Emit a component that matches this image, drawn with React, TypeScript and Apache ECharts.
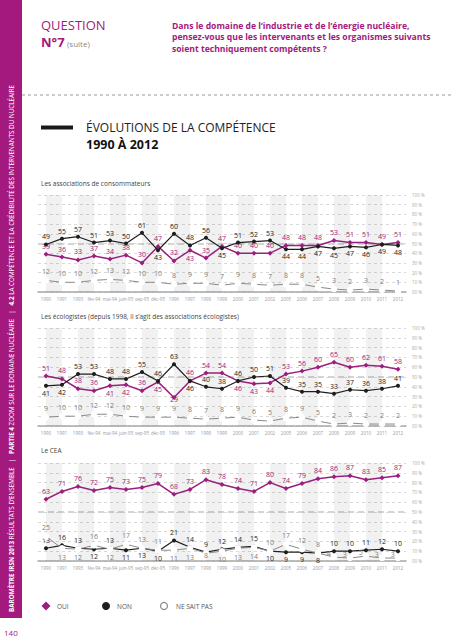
import React, { useEffect, useRef } from "react";
import * as echarts from "echarts";

const categories = ["1990", "1991", "1993", "fév-94", "mai-94", "juin-95", "sep-95", "déc-95", "1996", "1997", "1998", "1999", "2000", "2001", "2002", "2005", "2006", "2007", "2008", "2009", "2010", "2011", "2012"];

const consoOui = [39, 36, 33, 37, 34, 38, 30, 47, 32, 43, 35, 47, 40, 40, 40, 48, 48, 48, 53, 51, 51, 49, 51];
const consoNon = [49, 55, 57, 51, 53, 50, 61, 43, 60, 48, 56, 45, 51, 52, 53, 44, 44, 47, 45, 47, 46, 49, 48];
const consoNsp = [12, 10, 10, 12, 13, 12, 10, 10, 8, 9, 9, 7, 9, 8, 7, 8, 8, 5, 3, 2, 3, 2, 1];

const ecoOui = [51, 48, 38, 36, 41, 42, 36, 45, 29, 46, 54, 54, 46, 43, 44, 53, 56, 60, 65, 60, 62, 61, 58];
const ecoNon = [41, 42, 53, 53, 48, 48, 55, 46, 63, 46, 40, 38, 46, 50, 51, 39, 35, 35, 33, 37, 36, 38, 41];
const ecoNsp = [9, 10, 10, 12, 12, 10, 9, 9, 9, 8, 7, 8, 9, 6, 5, 8, 9, 5, 2, 3, 2, 2, 2];

const ceaOui = [63, 71, 76, 72, 75, 73, 75, 79, 68, 73, 83, 78, 74, 71, 80, 74, 79, 84, 86, 87, 83, 85, 87];
const ceaNon = [13, 16, 13, 12, 13, 11, 13, 10, 21, 14, 9, 12, 14, 15, 10, 9, 9, 8, 10, 10, 11, 12, 10];
const ceaNsp = [25, 13, 12, 16, 12, 17, 13, 11, 11, 13, 8, 10, 13, 14, 10, 17, 12, 8, 4, 3, 5, 3, 3];

const yTicks = ["00 %", "10 %", "20 %", "30 %", "40 %", "50 %", "60 %", "70 %", "80 %", "90 %", "100 %"];

const panelTitles = [
  "Les associations de consommateurs",
  "Les écologistes (depuis 1998, il s’agit des associations écologistes)",
  "Le CEA",
];
const seriesNames = ["OUI", "NON", "NE SAIT PAS"];

// label placement (style only): indices whose label sits below / upper-left of the point
const belowIdx: number[][][] = [
  [[9], [7, 11, 15, 16, 17, 18, 19, 20, 21, 22], []],
  [[4, 5, 7, 8, 12, 13, 14], [0, 1, 9], []],
  [[], [3, 5, 6, 7, 14, 15, 16, 17], [1, 2, 4, 8, 9, 10, 11, 12, 13]],
];
const leftIdx: number[][][] = [
  [[], [], []],
  [[], [], []],
  [[], [], [18, 19, 20, 21, 22]],
];
const tightIdx: number[][][] = [
  [[], [], []],
  [[8], [], []],
  [[], [], [10]],
];

const panels = [
  [consoOui, consoNon, consoNsp],
  [ecoOui, ecoNon, ecoNsp],
  [ceaOui, ceaNon, ceaNsp],
];

const MAG = "#a3197d";
const PURPLE = "#9a1f7e";
const BLACK = "#1e1e1e";
const GREY = "#8a8a8a";
const FONT = "'Open Sans', 'Noto Sans', sans-serif";

const gridTops = [195, 328, 463];
const gridHeights = [97, 98, 98];
const titleY = [183, 316, 450];

function labelFor(p: number, s: number, i: number) {
  if (leftIdx[p][s].includes(i)) return { position: "left", distance: 1, offset: [1, -4] };
  if (belowIdx[p][s].includes(i)) {
    if (tightIdx[p][s].includes(i)) return { position: "bottom", distance: 0, offset: [0, -4] };
    return { position: "bottom" };
  }
  return { position: "top" };
}

function buildOption() {
  const grid: any[] = [];
  const xAxis: any[] = [];
  const yAxis: any[] = [];
  const series: any[] = [];

  const stripes: any[] = [];
  for (let i = 0; i + 1 < categories.length; i += 2) {
    stripes.push([{ xAxis: categories[i] }, { xAxis: categories[i + 1] }]);
  }

  panels.forEach((vals, p) => {
    grid.push({ left: 38, top: gridTops[p], width: 368, height: gridHeights[p] });
    xAxis.push({
      type: "category",
      gridIndex: p,
      data: categories,
      boundaryGap: true,
      axisLine: { lineStyle: { color: "#a8a8a8", width: 1.5 } },
      axisTick: { alignWithLabel: true, length: 3, lineStyle: { color: "#a8a8a8" } },
      axisLabel: { interval: 0, fontSize: 4.5, color: "#9a9a9a", margin: 4, fontFamily: FONT },
      splitLine: { show: false },
    });
  });
  panels.forEach((_, p) => {
    yAxis.push({
      type: "value",
      gridIndex: p,
      position: "right",
      min: 0,
      max: 100,
      interval: 10,
      axisLine: { show: false },
      axisTick: { show: false },
      axisLabel: {
        fontSize: 4.5,
        color: "#aaaaaa",
        margin: 6,
        fontFamily: FONT,
        formatter: (v: number) => yTicks[Math.round(v / 10)],
      },
      splitLine: { lineStyle: { color: "#cfcfcf", type: [3, 3], width: 0.8 } },
    });
  });
  // helper axes drawing only the heavier 50 % line
  panels.forEach((_, p) => {
    yAxis.push({
      type: "value",
      gridIndex: p,
      position: "left",
      min: 0,
      max: 100,
      interval: 50,
      axisLine: { show: false },
      axisTick: { show: false },
      axisLabel: { show: false },
      splitLine: { show: true, showMinLine: false, showMaxLine: false, lineStyle: { color: "#d4d4d4", type: [6, 4], width: 1.8 } },
    });
  });

  panels.forEach((vals, p) => {
    const colors = [PURPLE, BLACK, GREY];
    const symbols = ["diamond", "circle", "emptyCircle"];
    const sizes = [5, 4, 4.5];
    const widths = [1.5, 1.2, 1];
    const labelColors = [PURPLE, BLACK, "#808080"];

    [2, 0, 1].forEach((s) => {
      const serie: any = {
        type: "line",
        name: seriesNames[s],
        xAxisIndex: p,
        yAxisIndex: p,
        color: colors[s],
        data: vals[s].map((v, i) => ({
          value: v,
          label: labelFor(p, s, i),
        })),
        symbol: symbols[s],
        symbolSize: sizes[s],
        lineStyle: { color: colors[s], width: widths[s] },
        itemStyle: { color: s === 2 ? "#ffffff" : colors[s], borderColor: colors[s], borderWidth: s === 2 ? 1 : 0 },
        label: {
          show: true,
          fontSize: 7,
          color: labelColors[s],
          fontFamily: FONT,
          distance: 2,
        },
        z: 3 + s,
      };
      if (s === 2) {
        serie.markArea = {
          silent: true,
          itemStyle: { color: "rgba(0,0,0,0.055)" },
          data: stripes,
        };
      }
      series.push(serie);
    });
  });

  const graphic: any[] = [
    { type: "rect", shape: { x: 0, y: 0, width: 22, height: 618 }, style: { fill: MAG } },
    {
      type: "text",
      x: 11,
      y: 612,
      rotation: Math.PI / 2,
      style: {
        text:
          "{b|BAROMÈTRE IRSN 2013} RÉSULTATS D’ENSEMBLE   |   {b|PARTIE 4} ZOOM SUR LE DOMAINE NUCLÉAIRE   |   {b|4.2} LA COMPÉTENCE ET LA CRÉDIBILITÉ DES INTERVENANTS DU NUCLÉAIRE",
        fill: "#ffffff",
        fontSize: 6.3,
        fontFamily: FONT,
        align: "left",
        verticalAlign: "middle",
        rich: { b: { fontWeight: "bold", fontSize: 6.3, fill: "#ffffff", fontFamily: FONT } },
      },
    },
    { type: "text", x: 4, y: 632, style: { text: "140", fill: MAG, fontSize: 8, fontFamily: FONT, verticalAlign: "middle" } },
    { type: "text", x: 41, y: 25, style: { text: "QUESTION", fill: MAG, fontSize: 13, fontFamily: FONT, verticalAlign: "middle" } },
    { type: "text", x: 41, y: 42, style: { text: "N°7", fill: MAG, fontSize: 13, fontWeight: "bold", fontFamily: FONT, verticalAlign: "middle" } },
    { type: "text", x: 67, y: 43, style: { text: "(suite)", fill: "#8a8a8a", fontSize: 8, fontFamily: FONT, verticalAlign: "middle" } },
    {
      type: "text",
      x: 172,
      y: 20,
      style: {
        text:
          "Dans le domaine de l’industrie et de l’énergie nucléaire,\npensez-vous que les intervenants et les organismes suivants\nsoient techniquement compétents ?",
        fill: MAG,
        fontSize: 8.6,
        lineHeight: 11.5,
        fontWeight: "bold",
        fontFamily: FONT,
        verticalAlign: "top",
      },
    },
    { type: "line", shape: { x1: 22, y1: 95, x2: 453, y2: 95 }, style: { stroke: "#9a9a9a", lineWidth: 1, lineDash: [3, 3] } },
    { type: "rect", shape: { x: 41, y: 125.5, width: 32, height: 4 }, style: { fill: "#1a1a1a" } },
    { type: "text", x: 86, y: 127, style: { text: "ÉVOLUTIONS DE LA COMPÉTENCE", fill: "#222", fontSize: 12, fontFamily: FONT, verticalAlign: "middle" } },
    { type: "text", x: 86, y: 144, style: { text: "1990 À 2012", fill: "#111", fontSize: 12.5, fontWeight: "bold", fontFamily: FONT, verticalAlign: "middle" } },
  ];

  panelTitles.forEach((t, p) => {
    graphic.push({ type: "text", x: 41, y: titleY[p], style: { text: t, fill: "#444", fontSize: 6.5, fontFamily: FONT, verticalAlign: "middle" } });
  });

  const ly = 606;
  graphic.push(
    { type: "polygon", shape: { points: [[46, ly - 4.5], [50.5, ly], [46, ly + 4.5], [41.5, ly]] }, style: { fill: PURPLE } },
    { type: "text", x: 57, y: ly, style: { text: "OUI", fill: "#555", fontSize: 6.5, fontFamily: FONT, verticalAlign: "middle" } },
    { type: "circle", shape: { cx: 106, cy: ly, r: 4 }, style: { fill: BLACK } },
    { type: "text", x: 117, y: ly, style: { text: "NON", fill: "#555", fontSize: 6.5, fontFamily: FONT, verticalAlign: "middle" } },
    { type: "circle", shape: { cx: 164, cy: ly, r: 3.5 }, style: { fill: "#fff", stroke: GREY, lineWidth: 1.2 } },
    { type: "text", x: 176, y: ly, style: { text: "NE SAIT PAS", fill: "#555", fontSize: 6.5, fontFamily: FONT, verticalAlign: "middle" } }
  );

  return {
    animation: false,
    backgroundColor: "#ffffff",
    textStyle: { fontFamily: FONT },
    grid,
    xAxis,
    yAxis,
    series,
    graphic,
  };
}

export default function App() {
  const ref = useRef<HTMLDivElement>(null);
  useEffect(() => {
    if (!ref.current) return;
    const chart = echarts.init(ref.current, null, { renderer: "svg" });
    chart.setOption(buildOption() as any);
    return () => chart.dispose();
  }, []);
  return (
    <div
      ref={ref}
      style={{ position: "absolute", left: 0, top: 0, width: 453, height: 640, background: "#fff" }}
    />
  );
}
